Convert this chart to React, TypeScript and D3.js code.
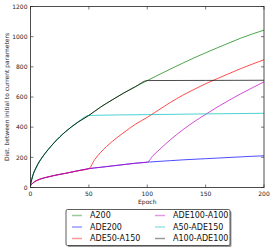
import { useEffect, useRef } from "react";
import * as d3 from "d3";

// epochs used for the base runs
const baseEpochs = [0, 2, 5, 10, 15, 20, 25, 30, 40, 50, 60, 70, 80, 90, 100, 110, 120, 130, 140, 150, 160, 170, 180, 190, 200];
const a200Values = [20, 80, 135, 200, 250, 295, 335, 370, 430, 478, 533, 581, 627, 669, 709, 748, 786, 823, 859, 893, 926, 958, 990, 1018, 1043];
const ade200Values = [12, 30, 45, 60, 70, 79, 87, 94, 110, 125, 134, 143, 152, 161, 168, 173, 178, 183, 187, 191, 195, 199, 203, 207, 210];

// tails after switching optimizer
const redTailEpochs = [50, 55, 60, 70, 80, 90, 100, 110, 120, 130, 140, 150, 160, 170, 180, 190, 200];
const redTailValues = [125, 185, 232, 305, 365, 420, 465, 515, 565, 610, 650, 688, 722, 755, 788, 818, 847];
const magTailEpochs = [100, 105, 110, 120, 130, 140, 150, 160, 170, 180, 190, 200];
const magTailValues = [168, 212, 248, 318, 380, 435, 485, 533, 578, 621, 661, 700];
const cyanTailEpochs = [50, 100, 150, 200];
const cyanTailValues = [478, 483, 488, 492];
const blackTailEpochs = [100, 150, 200];
const blackTailValues = [709, 710, 711];

const xTicks = [0, 50, 100, 150, 200];
const yTicks = [0, 200, 400, 600, 800, 1000, 1200];

type Pt = [number, number];
const zip = (xs: number[], ys: number[]): Pt[] => xs.map((x, i) => [x, ys[i]]);
const joined = (headY: number[], switchAt: number, tx: number[], ty: number[]): Pt[] => [
  ...zip(baseEpochs, headY).filter((p) => p[0] < switchAt),
  ...zip(tx, ty),
];

const series = [
  { name: "A200", color: "#008000", pts: zip(baseEpochs, a200Values) },
  { name: "ADE200", color: "#0000ff", pts: zip(baseEpochs, ade200Values) },
  { name: "ADE50-A150", color: "#ff0000", pts: joined(ade200Values, 50, redTailEpochs, redTailValues) },
  { name: "ADE100-A100", color: "#bf00bf", pts: joined(ade200Values, 100, magTailEpochs, magTailValues) },
  { name: "A50-ADE150", color: "#00bfbf", pts: joined(a200Values, 50, cyanTailEpochs, cyanTailValues) },
  { name: "A100-ADE100", color: "#000000", pts: joined(a200Values, 100, blackTailEpochs, blackTailValues) },
];

const W = 274;
const H = 249;
const plot = { left: 30.5, right: 264, top: 6.5, bottom: 187.5 };
const FONT = "'DejaVu Sans', sans-serif";

export default function App() {
  const ref = useRef<SVGSVGElement>(null);

  useEffect(() => {
    const svg = d3.select(ref.current);
    svg.selectAll("*").remove();

    const x = d3.scaleLinear().domain([0, 200]).range([plot.left, plot.right]);
    const y = d3.scaleLinear().domain([0, 1200]).range([plot.bottom, plot.top]);

    const line = d3
      .line<Pt>()
      .x((d) => x(d[0]))
      .y((d) => y(d[1]))
      .curve(d3.curveMonotoneX);

    const g = svg.append("g");
    series.forEach((s) => {
      g.append("path")
        .attr("d", line(s.pts))
        .attr("fill", "none")
        .attr("stroke", s.color)
        .attr("stroke-opacity", 0.7)
        .attr("stroke-width", 1);
    });

    // frame
    svg
      .append("rect")
      .attr("x", plot.left)
      .attr("y", plot.top)
      .attr("width", plot.right - plot.left)
      .attr("height", plot.bottom - plot.top)
      .attr("fill", "none")
      .attr("stroke", "#222")
      .attr("stroke-width", 0.8);

    // inward ticks on all sides
    const tl = 3;
    xTicks.forEach((t) => {
      svg.append("line").attr("x1", x(t)).attr("x2", x(t)).attr("y1", plot.bottom).attr("y2", plot.bottom - tl).attr("stroke", "#222").attr("stroke-width", 0.6);
      svg.append("line").attr("x1", x(t)).attr("x2", x(t)).attr("y1", plot.top).attr("y2", plot.top + tl).attr("stroke", "#222").attr("stroke-width", 0.6);
      svg.append("text")
        .attr("x", x(t))
        .attr("y", plot.bottom + 8)
        .attr("text-anchor", "middle")
        .attr("font-family", FONT)
        .attr("font-size", 6)
        .attr("fill", "#222")
        .text(t);
    });
    yTicks.forEach((t) => {
      svg.append("line").attr("x1", plot.left).attr("x2", plot.left + tl).attr("y1", y(t)).attr("y2", y(t)).attr("stroke", "#222").attr("stroke-width", 0.6);
      svg.append("line").attr("x1", plot.right).attr("x2", plot.right - tl).attr("y1", y(t)).attr("y2", y(t)).attr("stroke", "#222").attr("stroke-width", 0.6);
      svg.append("text")
        .attr("x", plot.left - 3)
        .attr("y", y(t) + 2.2)
        .attr("text-anchor", "end")
        .attr("font-family", FONT)
        .attr("font-size", 6)
        .attr("fill", "#222")
        .text(t);
    });

    svg.append("text")
      .attr("x", (plot.left + plot.right) / 2)
      .attr("y", 204)
      .attr("text-anchor", "middle")
      .attr("font-family", FONT)
      .attr("font-size", 6)
      .attr("fill", "#222")
      .text("Epoch");

    svg.append("text")
      .attr("transform", `translate(9,${(plot.top + plot.bottom) / 2}) rotate(-90)`)
      .attr("text-anchor", "middle")
      .attr("font-family", FONT)
      .attr("font-size", 6)
      .attr("fill", "#222")
      .text("Dist. between initial to current parameters");

    // legend
    const lg = svg.append("g").attr("transform", "translate(66,209.5)");
    lg.append("rect").attr("x", 1.5).attr("y", 1.5).attr("width", 164).attr("height", 36).attr("rx", 1.5).attr("fill", "#999");
    lg.append("rect").attr("width", 164).attr("height", 36).attr("rx", 1.5).attr("fill", "#fff").attr("stroke", "#333").attr("stroke-width", 0.8);
    series.forEach((s, i) => {
      const col = Math.floor(i / 3);
      const row = i % 3;
      const lx = col === 0 ? 6 : 89;
      const ly = 6 + row * 11.5;
      lg.append("line")
        .attr("x1", lx)
        .attr("x2", lx + 10)
        .attr("y1", ly)
        .attr("y2", ly)
        .attr("stroke", s.color)
        .attr("stroke-opacity", 0.4)
        .attr("stroke-width", 1.5);
      lg.append("text")
        .attr("x", lx + 18)
        .attr("y", ly + 2.8)
        .attr("font-family", FONT)
        .attr("font-size", 8)
        .attr("fill", "#111")
        .text(s.name);
    });
  }, []);

  return (
    <svg
      ref={ref}
      width={W}
      height={H}
      style={{ position: "absolute", left: 0, top: 0, background: "#fff" }}
    />
  );
}
